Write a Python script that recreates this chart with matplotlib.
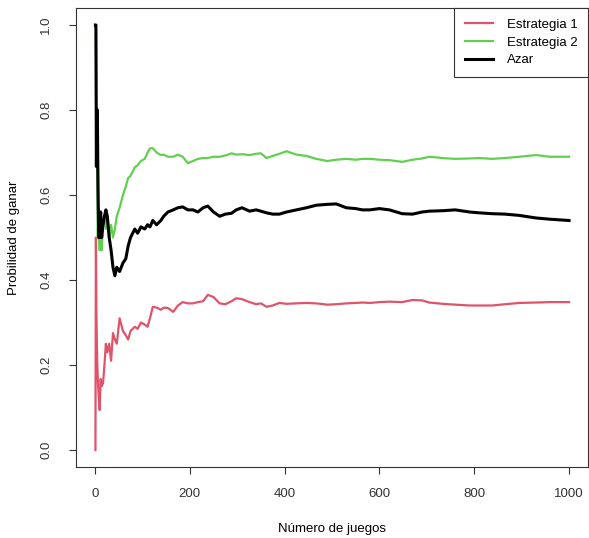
import matplotlib
matplotlib.use("Agg")
import matplotlib.pyplot as plt

plt.rcParams['font.family'] = ['Liberation Sans', 'DejaVu Sans']

# numero de juego en el que se leyo cada valor
juegos = [1, 2, 3, 4, 5, 6, 7, 8, 10, 12, 14, 17, 20, 23, 26, 30, 34, 38, 42, 46,
          52, 59, 65, 70, 75, 84, 90, 97, 105, 111, 116, 122, 130, 139, 145, 154,
          165, 175, 185, 196, 207, 217, 228, 238, 250, 263, 275, 288, 298, 310,
          326, 340, 350, 362, 375, 389, 404, 425, 446, 467, 490, 509, 530, 550,
          564, 580, 600, 621, 648, 670, 690, 705, 733, 760, 790, 811, 838, 865,
          895, 930, 960, 1000]

estrategia1 = [0.0, 0.5, 0.333, 0.25, 0.2, 0.167, 0.143, 0.125, 0.094, 0.167, 0.15,
               0.157, 0.2, 0.25, 0.23, 0.25, 0.21, 0.275, 0.26, 0.25, 0.31, 0.28,
               0.27, 0.26, 0.28, 0.29, 0.285, 0.30, 0.295, 0.29, 0.31, 0.337, 0.335,
               0.33, 0.335, 0.334, 0.325, 0.34, 0.348, 0.345, 0.345, 0.348, 0.35,
               0.365, 0.36, 0.345, 0.343, 0.35, 0.357, 0.355, 0.348, 0.343, 0.345,
               0.337, 0.34, 0.346, 0.344, 0.345, 0.346, 0.345, 0.342, 0.343, 0.345,
               0.346, 0.347, 0.346, 0.348, 0.349, 0.348, 0.353, 0.352, 0.347, 0.344,
               0.342, 0.34, 0.34, 0.34, 0.343, 0.346, 0.347, 0.348, 0.348]

estrategia2 = [1.0, 1.0, 0.667, 0.75, 0.6, 0.5, 0.57, 0.5, 0.47, 0.5, 0.47, 0.53,
               0.55, 0.52, 0.55, 0.5, 0.53, 0.5, 0.52, 0.55, 0.57, 0.6, 0.62, 0.64,
               0.645, 0.665, 0.67, 0.68, 0.685, 0.70, 0.71, 0.71, 0.70, 0.694, 0.695,
               0.69, 0.69, 0.695, 0.69, 0.675, 0.68, 0.685, 0.687, 0.687, 0.69, 0.69,
               0.693, 0.698, 0.695, 0.696, 0.694, 0.697, 0.698, 0.687, 0.692, 0.697,
               0.703, 0.695, 0.692, 0.685, 0.68, 0.683, 0.685, 0.683, 0.685, 0.685,
               0.683, 0.682, 0.678, 0.683, 0.686, 0.69, 0.687, 0.685, 0.686, 0.687,
               0.685, 0.687, 0.69, 0.694, 0.69, 0.69]

azar = [1.0, 1.0, 0.667, 0.75, 0.8, 0.667, 0.571, 0.5, 0.5, 0.56, 0.5, 0.53, 0.55,
        0.565, 0.55, 0.5, 0.47, 0.43, 0.41, 0.43, 0.42, 0.44, 0.45, 0.48, 0.50,
        0.52, 0.51, 0.525, 0.52, 0.53, 0.525, 0.54, 0.53, 0.54, 0.55, 0.56, 0.565,
        0.57, 0.572, 0.565, 0.565, 0.56, 0.57, 0.574, 0.56, 0.55, 0.555, 0.557,
        0.565, 0.57, 0.562, 0.565, 0.562, 0.558, 0.555, 0.555, 0.56, 0.565, 0.57,
        0.576, 0.578, 0.579, 0.57, 0.568, 0.565, 0.565, 0.568, 0.565, 0.556, 0.555,
        0.56, 0.562, 0.563, 0.565, 0.56, 0.558, 0.556, 0.555, 0.552, 0.546, 0.543,
        0.54]

fig = plt.figure(figsize=(5.89, 5.38), dpi=100)
ax = fig.add_axes([76 / 589, 71 / 538, 512 / 589, 459 / 538])

ax.plot(juegos, estrategia1, color='#DF536B', lw=1.6, label='Estrategia 1')
ax.plot(juegos, estrategia2, color='#61D04F', lw=1.6, label='Estrategia 2')
ax.plot(juegos, azar, color='black', lw=2.2, label='Azar')

ax.set_xlim(-40, 1040)
ax.set_ylim(-0.04, 1.04)
ax.set_xticks([0, 200, 400, 600, 800, 1000])
ax.set_yticks([0.0, 0.2, 0.4, 0.6, 0.8, 1.0])
ax.set_yticklabels(['0.0', '0.2', '0.4', '0.6', '0.8', '1.0'], rotation=90, va='center')
ax.tick_params(axis='both', direction='out', length=5, width=0.8, labelsize=9.5,
               colors='#333333')
ax.tick_params(axis='x', pad=10)
ax.tick_params(axis='y', pad=12)
for s in ax.spines.values():
    s.set_color('#333333')
    s.set_linewidth(0.8)

ax.set_xlabel('Número de juegos', fontsize=9.5)
ax.set_ylabel('Probilidad de ganar', fontsize=9.5)
ax.xaxis.set_label_coords(0.5, -0.122)
ax.yaxis.set_label_coords(-0.109, 0.5)

leg = ax.legend(loc='upper right', borderaxespad=0, fancybox=False,
                edgecolor='#333333', framealpha=1, fontsize=9.5,
                handlelength=2.1, handletextpad=1.06, labelspacing=0.42,
                borderpad=0.8)
leg.get_frame().set_linewidth(0.8)

fig.savefig('out.png', dpi=100)
